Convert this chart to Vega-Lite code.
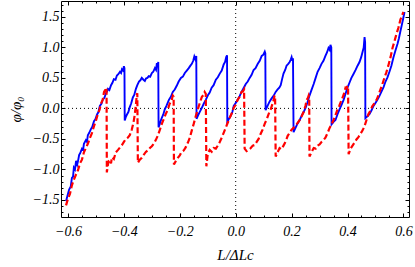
{
  "$schema": "https://vega.github.io/schema/vega-lite/v6.json",
  "width": 348,
  "height": 216,
  "autosize": "none",
  "padding": {"left": 61, "top": 1, "right": 6, "bottom": 50},
  "background": "white",
  "config": {
    "view": {"stroke": "black", "strokeWidth": 1},
    "axis": {
      "domain": false, "grid": false,
      "labelFont": "Liberation Serif", "labelFontStyle": "italic", "labelFontSize": 14, "labelColor": "black",
      "titleFont": "Liberation Serif", "titleFontStyle": "italic", "titleFontWeight": "normal", "titleFontSize": 15, "titleColor": "black",
      "tickColor": "black", "tickWidth": 1
    }
  },
  "datasets": {
    "blue": [
      {"x": -0.607, "y": -1.52}, {"x": -0.600, "y": -1.40}, {"x": -0.596, "y": -1.33}, {"x": -0.590, "y": -1.28},
      {"x": -0.586, "y": -1.14}, {"x": -0.582, "y": -1.12}, {"x": -0.579, "y": -0.97}, {"x": -0.575, "y": -1.00},
      {"x": -0.571, "y": -0.86}, {"x": -0.567, "y": -0.92}, {"x": -0.564, "y": -0.86}, {"x": -0.560, "y": -0.76},
      {"x": -0.557, "y": -0.74}, {"x": -0.550, "y": -0.66}, {"x": -0.546, "y": -0.68}, {"x": -0.543, "y": -0.58},
      {"x": -0.536, "y": -0.52}, {"x": -0.532, "y": -0.55}, {"x": -0.529, "y": -0.44}, {"x": -0.524, "y": -0.40},
      {"x": -0.518, "y": -0.34}, {"x": -0.513, "y": -0.30}, {"x": -0.507, "y": -0.21}, {"x": -0.502, "y": -0.18},
      {"x": -0.496, "y": -0.10}, {"x": -0.491, "y": -0.06}, {"x": -0.486, "y": 0.04}, {"x": -0.480, "y": 0.08},
      {"x": -0.475, "y": 0.15}, {"x": -0.470, "y": 0.17}, {"x": -0.464, "y": 0.25}, {"x": -0.460, "y": 0.28},
      {"x": -0.457, "y": 0.32}, {"x": -0.452, "y": 0.30}, {"x": -0.446, "y": 0.38}, {"x": -0.441, "y": 0.42},
      {"x": -0.436, "y": 0.48}, {"x": -0.430, "y": 0.47}, {"x": -0.425, "y": 0.54}, {"x": -0.420, "y": 0.56},
      {"x": -0.414, "y": 0.60}, {"x": -0.410, "y": 0.58}, {"x": -0.407, "y": 0.64}, {"x": -0.403, "y": 0.62},
      {"x": -0.400, "y": 0.69}, {"x": -0.398, "y": 0.66}, {"x": -0.397, "y": -0.20},
      {"x": -0.393, "y": -0.14}, {"x": -0.389, "y": -0.10}, {"x": -0.384, "y": -0.06}, {"x": -0.379, "y": 0.02},
      {"x": -0.374, "y": 0.08}, {"x": -0.368, "y": 0.18}, {"x": -0.363, "y": 0.22}, {"x": -0.357, "y": 0.32},
      {"x": -0.352, "y": 0.38}, {"x": -0.346, "y": 0.44}, {"x": -0.341, "y": 0.46}, {"x": -0.336, "y": 0.50},
      {"x": -0.330, "y": 0.47}, {"x": -0.325, "y": 0.45}, {"x": -0.321, "y": 0.49}, {"x": -0.316, "y": 0.50},
      {"x": -0.311, "y": 0.53}, {"x": -0.306, "y": 0.52}, {"x": -0.300, "y": 0.58}, {"x": -0.295, "y": 0.60},
      {"x": -0.289, "y": 0.66}, {"x": -0.285, "y": 0.63}, {"x": -0.282, "y": 0.74}, {"x": -0.279, "y": 0.70},
      {"x": -0.277, "y": 0.76}, {"x": -0.276, "y": -0.31},
      {"x": -0.272, "y": -0.26}, {"x": -0.268, "y": -0.20}, {"x": -0.264, "y": -0.15}, {"x": -0.259, "y": -0.10},
      {"x": -0.254, "y": -0.02}, {"x": -0.247, "y": 0.05}, {"x": -0.239, "y": 0.14}, {"x": -0.232, "y": 0.19},
      {"x": -0.225, "y": 0.27}, {"x": -0.218, "y": 0.31}, {"x": -0.211, "y": 0.37}, {"x": -0.204, "y": 0.44},
      {"x": -0.196, "y": 0.50}, {"x": -0.189, "y": 0.52}, {"x": -0.182, "y": 0.58}, {"x": -0.175, "y": 0.62},
      {"x": -0.168, "y": 0.66}, {"x": -0.162, "y": 0.70}, {"x": -0.157, "y": 0.73}, {"x": -0.152, "y": 0.78},
      {"x": -0.148, "y": 0.85}, {"x": -0.144, "y": 0.80}, {"x": -0.141, "y": 0.86}, {"x": -0.140, "y": -0.17},
      {"x": -0.135, "y": -0.12}, {"x": -0.129, "y": -0.06}, {"x": -0.122, "y": 0.00}, {"x": -0.114, "y": 0.08},
      {"x": -0.107, "y": 0.14}, {"x": -0.100, "y": 0.21}, {"x": -0.093, "y": 0.26}, {"x": -0.086, "y": 0.34},
      {"x": -0.079, "y": 0.38}, {"x": -0.071, "y": 0.47}, {"x": -0.064, "y": 0.51}, {"x": -0.057, "y": 0.57},
      {"x": -0.050, "y": 0.62}, {"x": -0.043, "y": 0.72}, {"x": -0.038, "y": 0.76}, {"x": -0.034, "y": 0.84},
      {"x": -0.031, "y": 0.87}, {"x": -0.030, "y": -0.22},
      {"x": -0.025, "y": -0.18}, {"x": -0.018, "y": -0.12}, {"x": -0.012, "y": -0.06}, {"x": -0.007, "y": 0.04},
      {"x": 0.000, "y": 0.09}, {"x": 0.007, "y": 0.14}, {"x": 0.014, "y": 0.20}, {"x": 0.021, "y": 0.27},
      {"x": 0.028, "y": 0.33}, {"x": 0.036, "y": 0.40}, {"x": 0.043, "y": 0.44}, {"x": 0.050, "y": 0.50},
      {"x": 0.057, "y": 0.55}, {"x": 0.064, "y": 0.63}, {"x": 0.071, "y": 0.66}, {"x": 0.079, "y": 0.73},
      {"x": 0.086, "y": 0.78}, {"x": 0.093, "y": 0.86}, {"x": 0.099, "y": 0.88}, {"x": 0.104, "y": 0.93},
      {"x": 0.106, "y": 0.90}, {"x": 0.107, "y": -0.03},
      {"x": 0.114, "y": 0.04}, {"x": 0.121, "y": 0.11}, {"x": 0.128, "y": 0.16}, {"x": 0.136, "y": 0.21},
      {"x": 0.143, "y": 0.27}, {"x": 0.150, "y": 0.31}, {"x": 0.156, "y": 0.34}, {"x": 0.161, "y": 0.38},
      {"x": 0.166, "y": 0.48}, {"x": 0.171, "y": 0.57}, {"x": 0.177, "y": 0.63}, {"x": 0.182, "y": 0.70},
      {"x": 0.188, "y": 0.73}, {"x": 0.193, "y": 0.76}, {"x": 0.197, "y": 0.80}, {"x": 0.200, "y": 0.84},
      {"x": 0.203, "y": 0.78}, {"x": 0.205, "y": 0.82}, {"x": 0.207, "y": -0.39},
      {"x": 0.214, "y": -0.32}, {"x": 0.221, "y": -0.25}, {"x": 0.229, "y": -0.19}, {"x": 0.236, "y": -0.12},
      {"x": 0.243, "y": -0.06}, {"x": 0.250, "y": 0.01}, {"x": 0.257, "y": 0.10}, {"x": 0.264, "y": 0.21},
      {"x": 0.271, "y": 0.30}, {"x": 0.279, "y": 0.40}, {"x": 0.286, "y": 0.50}, {"x": 0.293, "y": 0.60},
      {"x": 0.300, "y": 0.66}, {"x": 0.307, "y": 0.73}, {"x": 0.314, "y": 0.78}, {"x": 0.321, "y": 0.86},
      {"x": 0.327, "y": 0.92}, {"x": 0.332, "y": 0.99}, {"x": 0.336, "y": 0.96}, {"x": 0.339, "y": 1.04},
      {"x": 0.342, "y": 1.00}, {"x": 0.343, "y": -0.26},
      {"x": 0.350, "y": -0.22}, {"x": 0.357, "y": -0.19}, {"x": 0.364, "y": -0.10}, {"x": 0.371, "y": -0.02},
      {"x": 0.379, "y": 0.06}, {"x": 0.386, "y": 0.14}, {"x": 0.393, "y": 0.24}, {"x": 0.400, "y": 0.34},
      {"x": 0.407, "y": 0.42}, {"x": 0.414, "y": 0.50}, {"x": 0.421, "y": 0.56}, {"x": 0.429, "y": 0.63},
      {"x": 0.436, "y": 0.70}, {"x": 0.443, "y": 0.76}, {"x": 0.449, "y": 0.84}, {"x": 0.454, "y": 0.93},
      {"x": 0.458, "y": 1.00}, {"x": 0.461, "y": 1.17}, {"x": 0.463, "y": 1.08}, {"x": 0.464, "y": -0.16},
      {"x": 0.471, "y": -0.13}, {"x": 0.479, "y": -0.09}, {"x": 0.486, "y": -0.03}, {"x": 0.493, "y": 0.04},
      {"x": 0.500, "y": 0.09}, {"x": 0.507, "y": 0.14}, {"x": 0.514, "y": 0.20}, {"x": 0.521, "y": 0.27},
      {"x": 0.529, "y": 0.35}, {"x": 0.536, "y": 0.44}, {"x": 0.543, "y": 0.51}, {"x": 0.550, "y": 0.60},
      {"x": 0.557, "y": 0.70}, {"x": 0.564, "y": 0.83}, {"x": 0.571, "y": 0.94}, {"x": 0.579, "y": 1.06},
      {"x": 0.584, "y": 1.15}, {"x": 0.589, "y": 1.26}, {"x": 0.594, "y": 1.36}, {"x": 0.600, "y": 1.49},
      {"x": 0.604, "y": 1.58}
    ],
    "red": [
      {"x": -0.607, "y": -1.59}, {"x": -0.600, "y": -1.48}, {"x": -0.593, "y": -1.40}, {"x": -0.586, "y": -1.26},
      {"x": -0.579, "y": -1.17}, {"x": -0.571, "y": -1.08}, {"x": -0.564, "y": -1.01}, {"x": -0.557, "y": -0.90},
      {"x": -0.550, "y": -0.84}, {"x": -0.543, "y": -0.72}, {"x": -0.536, "y": -0.65}, {"x": -0.529, "y": -0.58},
      {"x": -0.521, "y": -0.48}, {"x": -0.514, "y": -0.40}, {"x": -0.507, "y": -0.29}, {"x": -0.500, "y": -0.20},
      {"x": -0.493, "y": -0.09}, {"x": -0.487, "y": -0.02}, {"x": -0.482, "y": 0.08}, {"x": -0.476, "y": 0.14},
      {"x": -0.471, "y": 0.27}, {"x": -0.467, "y": 0.30}, {"x": -0.464, "y": 0.34}, {"x": -0.462, "y": 0.30},
      {"x": -0.461, "y": -1.05},
      {"x": -0.457, "y": -0.92}, {"x": -0.454, "y": -0.86}, {"x": -0.450, "y": -0.84}, {"x": -0.446, "y": -0.90},
      {"x": -0.443, "y": -0.80}, {"x": -0.436, "y": -0.83}, {"x": -0.429, "y": -0.72}, {"x": -0.421, "y": -0.68},
      {"x": -0.414, "y": -0.64}, {"x": -0.407, "y": -0.60}, {"x": -0.400, "y": -0.55}, {"x": -0.393, "y": -0.50},
      {"x": -0.386, "y": -0.48}, {"x": -0.379, "y": -0.44}, {"x": -0.372, "y": -0.35}, {"x": -0.366, "y": -0.24},
      {"x": -0.361, "y": -0.10}, {"x": -0.357, "y": 0.06}, {"x": -0.354, "y": 0.22}, {"x": -0.352, "y": 0.25},
      {"x": -0.350, "y": -0.89},
      {"x": -0.343, "y": -0.84}, {"x": -0.336, "y": -0.81}, {"x": -0.329, "y": -0.76}, {"x": -0.321, "y": -0.71},
      {"x": -0.314, "y": -0.69}, {"x": -0.307, "y": -0.65}, {"x": -0.300, "y": -0.62}, {"x": -0.293, "y": -0.58},
      {"x": -0.286, "y": -0.52}, {"x": -0.279, "y": -0.45}, {"x": -0.272, "y": -0.36}, {"x": -0.264, "y": -0.25},
      {"x": -0.257, "y": -0.17}, {"x": -0.250, "y": -0.09}, {"x": -0.243, "y": -0.02}, {"x": -0.236, "y": 0.08},
      {"x": -0.230, "y": 0.12}, {"x": -0.225, "y": 0.21}, {"x": -0.222, "y": 0.19}, {"x": -0.221, "y": -0.92},
      {"x": -0.214, "y": -0.86}, {"x": -0.207, "y": -0.81}, {"x": -0.200, "y": -0.77}, {"x": -0.193, "y": -0.71},
      {"x": -0.186, "y": -0.69}, {"x": -0.179, "y": -0.64}, {"x": -0.171, "y": -0.56}, {"x": -0.164, "y": -0.48},
      {"x": -0.157, "y": -0.36}, {"x": -0.150, "y": -0.25}, {"x": -0.143, "y": -0.13}, {"x": -0.136, "y": -0.02},
      {"x": -0.129, "y": 0.08}, {"x": -0.121, "y": 0.19}, {"x": -0.115, "y": 0.22}, {"x": -0.111, "y": 0.27},
      {"x": -0.107, "y": 0.24}, {"x": -0.105, "y": -0.95},
      {"x": -0.100, "y": -0.75}, {"x": -0.093, "y": -0.68}, {"x": -0.086, "y": -0.71}, {"x": -0.079, "y": -0.65},
      {"x": -0.071, "y": -0.66}, {"x": -0.064, "y": -0.61}, {"x": -0.057, "y": -0.55}, {"x": -0.050, "y": -0.48},
      {"x": -0.043, "y": -0.40}, {"x": -0.036, "y": -0.32}, {"x": -0.029, "y": -0.24}, {"x": -0.021, "y": -0.15},
      {"x": -0.014, "y": -0.08}, {"x": -0.007, "y": 0.01}, {"x": 0.000, "y": 0.06}, {"x": 0.007, "y": 0.14},
      {"x": 0.014, "y": 0.19}, {"x": 0.021, "y": 0.27}, {"x": 0.026, "y": 0.28}, {"x": 0.030, "y": 0.31},
      {"x": 0.032, "y": -0.66},
      {"x": 0.039, "y": -0.70}, {"x": 0.046, "y": -0.68}, {"x": 0.054, "y": -0.65}, {"x": 0.061, "y": -0.61},
      {"x": 0.068, "y": -0.60}, {"x": 0.075, "y": -0.55}, {"x": 0.082, "y": -0.50}, {"x": 0.089, "y": -0.42},
      {"x": 0.096, "y": -0.35}, {"x": 0.104, "y": -0.25}, {"x": 0.111, "y": -0.18}, {"x": 0.118, "y": -0.09},
      {"x": 0.125, "y": -0.02}, {"x": 0.132, "y": 0.08}, {"x": 0.136, "y": 0.14}, {"x": 0.139, "y": 0.21},
      {"x": 0.141, "y": 0.18}, {"x": 0.143, "y": -0.79},
      {"x": 0.150, "y": -0.72}, {"x": 0.157, "y": -0.65}, {"x": 0.164, "y": -0.67}, {"x": 0.171, "y": -0.61},
      {"x": 0.179, "y": -0.54}, {"x": 0.186, "y": -0.45}, {"x": 0.193, "y": -0.40}, {"x": 0.200, "y": -0.35},
      {"x": 0.207, "y": -0.32}, {"x": 0.214, "y": -0.29}, {"x": 0.221, "y": -0.24}, {"x": 0.229, "y": -0.19},
      {"x": 0.236, "y": -0.13}, {"x": 0.243, "y": -0.06}, {"x": 0.250, "y": 0.05}, {"x": 0.254, "y": 0.14},
      {"x": 0.258, "y": 0.17}, {"x": 0.261, "y": 0.21}, {"x": 0.263, "y": 0.18}, {"x": 0.264, "y": -0.79},
      {"x": 0.271, "y": -0.72}, {"x": 0.279, "y": -0.65}, {"x": 0.286, "y": -0.66}, {"x": 0.293, "y": -0.61},
      {"x": 0.300, "y": -0.59}, {"x": 0.307, "y": -0.55}, {"x": 0.314, "y": -0.52}, {"x": 0.321, "y": -0.48},
      {"x": 0.329, "y": -0.40}, {"x": 0.336, "y": -0.32}, {"x": 0.343, "y": -0.26}, {"x": 0.350, "y": -0.19},
      {"x": 0.357, "y": -0.11}, {"x": 0.364, "y": -0.02}, {"x": 0.371, "y": 0.05}, {"x": 0.379, "y": 0.14},
      {"x": 0.386, "y": 0.22}, {"x": 0.393, "y": 0.34}, {"x": 0.397, "y": 0.33}, {"x": 0.400, "y": 0.37},
      {"x": 0.402, "y": 0.34}, {"x": 0.404, "y": -0.75},
      {"x": 0.411, "y": -0.66}, {"x": 0.418, "y": -0.61}, {"x": 0.425, "y": -0.56}, {"x": 0.432, "y": -0.51},
      {"x": 0.439, "y": -0.47}, {"x": 0.446, "y": -0.42}, {"x": 0.454, "y": -0.36}, {"x": 0.461, "y": -0.29},
      {"x": 0.468, "y": -0.19}, {"x": 0.475, "y": -0.09}, {"x": 0.482, "y": -0.04}, {"x": 0.489, "y": 0.04},
      {"x": 0.496, "y": 0.08}, {"x": 0.504, "y": 0.14}, {"x": 0.511, "y": 0.22}, {"x": 0.518, "y": 0.31},
      {"x": 0.525, "y": 0.40}, {"x": 0.532, "y": 0.50}, {"x": 0.539, "y": 0.59}, {"x": 0.546, "y": 0.70},
      {"x": 0.554, "y": 0.84}, {"x": 0.561, "y": 0.99}, {"x": 0.568, "y": 1.10}, {"x": 0.575, "y": 1.22},
      {"x": 0.582, "y": 1.32}, {"x": 0.589, "y": 1.45}, {"x": 0.594, "y": 1.51}, {"x": 0.600, "y": 1.58}
    ],
    "zero": [{"v": 0}]
  },
  "resolve": {"axis": {"x": "independent", "y": "independent"}},
  "layer": [
    {
      "data": {"name": "zero"},
      "mark": {"type": "rule", "color": "black", "strokeWidth": 1, "strokeDash": [1, 3]},
      "encoding": {
        "x": {"field": "v", "type": "quantitative",
              "axis": {"orient": "bottom", "title": null, "labels": false, "tickSize": -2, "values": [-0.6,-0.55,-0.5,-0.45,-0.4,-0.35,-0.3,-0.25,-0.2,-0.15,-0.1,-0.05,0,0.05,0.1,0.15,0.2,0.25,0.3,0.35,0.4,0.45,0.5,0.55,0.6]}}
      }
    },
    {
      "data": {"name": "zero"},
      "mark": {"type": "rule", "color": "black", "strokeWidth": 1, "strokeDash": [1, 3]},
      "encoding": {
        "y": {"field": "v", "type": "quantitative",
              "axis": {"orient": "left", "title": null, "labels": false, "tickSize": -2, "values": [-1.7,-1.6,-1.5,-1.4,-1.3,-1.2,-1.1,-1,-0.9,-0.8,-0.7,-0.6,-0.5,-0.4,-0.3,-0.2,-0.1,0,0.1,0.2,0.3,0.4,0.5,0.6,0.7,0.8,0.9,1,1.1,1.2,1.3,1.4,1.5,1.6,1.7]}}
      }
    },
    {
      "data": {"name": "blue"},
      "mark": {"type": "line", "color": "#0000ff", "strokeWidth": 1.9},
      "encoding": {
        "x": {"field": "x", "type": "quantitative",
              "scale": {"domain": [-0.625, 0.62], "nice": false, "zero": false},
              "axis": {"orient": "bottom", "title": "L/ΔLc", "values": [-0.6,-0.4,-0.2,0,0.2,0.4,0.6], "format": ".1f", "tickSize": -4, "labelPadding": 11, "titlePadding": 9}},
        "y": {"field": "y", "type": "quantitative",
              "scale": {"domain": [-1.78, 1.76], "nice": false, "zero": false},
              "axis": {"orient": "left", "title": "φ/φ₀", "values": [-1.5,-1,-0.5,0,0.5,1,1.5], "format": ".1f", "tickSize": -4, "labelPadding": 6, "titlePadding": 9}}
      }
    },
    {
      "data": {"name": "red"},
      "mark": {"type": "line", "color": "#ff0000", "strokeWidth": 2.2, "strokeDash": [6, 3]},
      "encoding": {
        "x": {"field": "x", "type": "quantitative",
              "axis": {"orient": "top", "title": null, "labels": false, "values": [-0.6,-0.4,-0.2,0,0.2,0.4,0.6], "tickSize": -4}},
        "y": {"field": "y", "type": "quantitative",
              "axis": {"orient": "right", "title": null, "labels": false, "values": [-1.5,-1,-0.5,0,0.5,1,1.5], "tickSize": -4}}
      }
    },
    {
      "data": {"name": "red"},
      "mark": {"type": "point", "opacity": 0},
      "encoding": {
        "x": {"field": "x", "type": "quantitative",
              "axis": {"orient": "top", "title": null, "labels": false, "tickSize": -2, "values": [-0.6,-0.55,-0.5,-0.45,-0.4,-0.35,-0.3,-0.25,-0.2,-0.15,-0.1,-0.05,0,0.05,0.1,0.15,0.2,0.25,0.3,0.35,0.4,0.45,0.5,0.55,0.6]}},
        "y": {"field": "y", "type": "quantitative",
              "axis": {"orient": "right", "title": null, "labels": false, "tickSize": -2, "values": [-1.7,-1.6,-1.5,-1.4,-1.3,-1.2,-1.1,-1,-0.9,-0.8,-0.7,-0.6,-0.5,-0.4,-0.3,-0.2,-0.1,0,0.1,0.2,0.3,0.4,0.5,0.6,0.7,0.8,0.9,1,1.1,1.2,1.3,1.4,1.5,1.6,1.7]}}
      }
    }
  ]
}
